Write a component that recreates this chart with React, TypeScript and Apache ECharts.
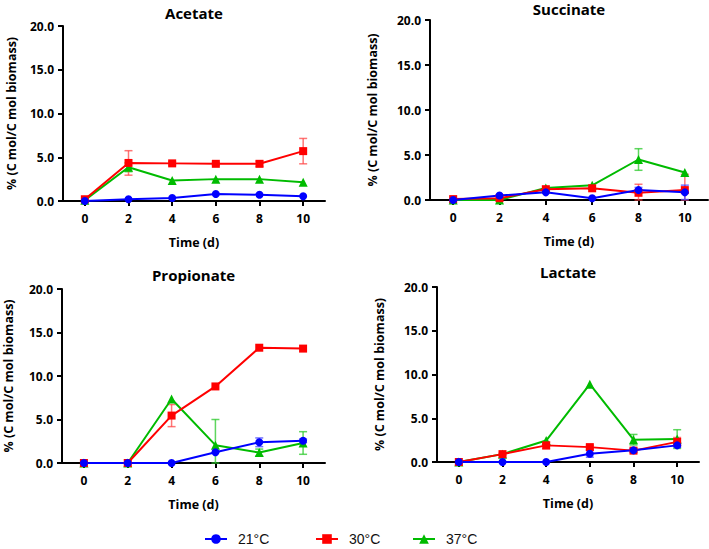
import React, { useEffect, useRef } from "react";
import * as echarts from "echarts";

// ---- data ----
const days = [0, 2, 4, 6, 8, 10];
const xTicks = [0, 2, 4, 6, 8, 10];
const seriesNames = ["21°C", "30°C", "37°C"];
const panelTitles = ["Acetate", "Succinate", "Propionate", "Lactate"];

// Acetate
const acetate21 = [0, 0.2, 0.35, 0.8, 0.72, 0.55];
const acetate21Err = [0, 0, 0, 0, 0, 0];
const acetate30 = [0.2, 4.35, 4.3, 4.25, 4.25, 5.7];
const acetate30Err = [0, 1.4, 0.2, 0.15, 0.3, 1.45];
const acetate37 = [0.1, 3.85, 2.35, 2.5, 2.5, 2.15];
const acetate37Err = [0, 0.5, 0, 0, 0, 0];

// Succinate
const succinate21 = [0, 0.5, 0.85, 0.2, 1.1, 0.85];
const succinate21Err = [0, 0, 0, 0, 0.3, 0.8];
const succinate30 = [0.1, 0.2, 1.2, 1.3, 0.8, 1.1];
const succinate30Err = [0, 0, 0, 0, 0.95, 1.75];
const succinate37 = [0, 0, 1.33, 1.63, 4.5, 3.05];
const succinate37Err = [0, 0, 0, 0, 1.2, 0];

// Propionate
const propionate21 = [0, 0, 0, 1.23, 2.38, 2.55];
const propionate21Err = [0, 0, 0, 0, 0.5, 0.2];
const propionate30 = [0, 0, 5.45, 8.8, 13.25, 13.15];
const propionate30Err = [0, 0, 1.27, 0, 0, 0];
const propionate37 = [0, 0, 7.35, 2.05, 1.2, 2.3];
const propionate37Err = [0, 0, 0, 2.95, 0.4, 1.3];

// Lactate
const lactate21 = [0, 0, 0, 0.95, 1.33, 1.9];
const lactate21Err = [0, 0, 0, 0.4, 0.2, 0.2];
const lactate30 = [0, 0.9, 1.9, 1.7, 1.3, 2.3];
const lactate30Err = [0, 0.1, 0.4, 0.2, 0.2, 0.5];
const lactate37 = [0, 0.9, 2.45, 8.9, 2.55, 2.62];
const lactate37Err = [0, 0, 0, 0, 0.6, 1.07];

const panels = [
  { v: [acetate21, acetate30, acetate37], e: [acetate21Err, acetate30Err, acetate37Err] },
  { v: [succinate21, succinate30, succinate37], e: [succinate21Err, succinate30Err, succinate37Err] },
  { v: [propionate21, propionate30, propionate37], e: [propionate21Err, propionate30Err, propionate37Err] },
  { v: [lactate21, lactate30, lactate37], e: [lactate21Err, lactate30Err, lactate37Err] },
];

// ---- styles ----
const colors = ["#0000FF", "#FF0000", "#00BB00"];
const errColors = ["rgba(70,70,255,0.75)", "rgba(255,60,60,0.7)", "rgba(40,200,40,0.75)"];
const symbols = ["circle", "rect", "triangle"];
const FONT = "Open Sans";

const grids = [
  { left: 63, top: 26, width: 262, height: 175 },
  { left: 430, top: 20, width: 278, height: 180 },
  { left: 62, top: 289, width: 263, height: 174 },
  { left: 437, top: 287, width: 262, height: 175 },
];
const yNameGaps = [45, 51, 47, 51];
const titleTops = [5, 1, 267, 264];
const legendLefts = [204, 315, 412];

export default function App() {
  const ref = useRef<HTMLDivElement>(null);
  useEffect(() => {
    document.body.style.margin = "0";
    const chart = echarts.init(ref.current!, null, { renderer: "svg" });

    const series: any[] = [];
    panels.forEach((p, gi) => {
      // draw order: 37 (green), 30 (red), 21 (blue) on top
      [2, 1, 0].forEach((si) => {
        const errData = days
          .map((d, i) => [d, p.v[si][i], p.e[si][i]])
          .filter((r) => r[2] > 0);
        series.push({
          type: "custom",
          xAxisIndex: gi,
          yAxisIndex: gi,
          silent: true,
          z: 1,
          data: errData,
          renderItem: (params: any, api: any) => {
            const x = api.value(0);
            const y = api.value(1);
            const e = api.value(2);
            const top = api.coord([x, y + e]);
            const bot = api.coord([x, Math.max(0, y - e)]);
            const hw = 4;
            const st = { stroke: errColors[si], lineWidth: 1.5 };
            return {
              type: "group",
              children: [
                { type: "line", shape: { x1: top[0], y1: top[1], x2: bot[0], y2: bot[1] }, style: st },
                { type: "line", shape: { x1: top[0] - hw, y1: top[1], x2: top[0] + hw, y2: top[1] }, style: st },
                { type: "line", shape: { x1: bot[0] - hw, y1: bot[1], x2: bot[0] + hw, y2: bot[1] }, style: st },
              ],
            };
          },
        });
      });
      [2, 1, 0].forEach((si) => {
        series.push({
          type: "line",
          name: seriesNames[si],
          xAxisIndex: gi,
          yAxisIndex: gi,
          z: 2,
          data: days.map((d, i) => [d, p.v[si][i]]),
          symbol: symbols[si],
          symbolSize: si === 2 ? 9 : 8,
          showSymbol: true,
          lineStyle: { color: colors[si], width: 2 },
          itemStyle: { color: colors[si] },
        });
      });
    });

    const axisLabelStyle = { fontFamily: FONT, fontWeight: "bold" as const, fontSize: 12, color: "#000" };

    const option: any = {
      animation: false,
      backgroundColor: "#fff",
      title: panelTitles.map((t, i) => ({
        text: t,
        left: grids[i].left + grids[i].width / 2,
        top: titleTops[i],
        textAlign: "center",
        padding: 0,
        textStyle: { fontFamily: FONT, fontWeight: "bold", fontSize: 15, color: "#000" },
      })),
      grid: grids.map((g) => ({ ...g, containLabel: false, outerBoundsMode: "none" })),
      xAxis: grids.map((g, i) => ({
        type: "value",
        gridIndex: i,
        min: -1,
        max: 11,
        name: "Time (d)",
        nameLocation: "middle",
        nameGap: 35,
        nameTextStyle: { fontFamily: FONT, fontWeight: "bold", fontSize: 12.5, color: "#000" },
        axisLine: { show: true, onZero: false, lineStyle: { color: "#000", width: 2 } },
        axisTick: { show: true, length: 5, customValues: xTicks, lineStyle: { color: "#000", width: 2 } },
        axisLabel: { ...axisLabelStyle, margin: 11, customValues: xTicks },
        splitLine: { show: false },
      })),
      yAxis: grids.map((g, i) => ({
        type: "value",
        gridIndex: i,
        min: 0,
        max: 20,
        interval: 5,
        name: "% (C mol/C mol biomass)",
        nameLocation: "middle",
        nameGap: yNameGaps[i],
        nameTextStyle: { fontFamily: FONT, fontWeight: "bold", fontSize: 12.5, color: "#000" },
        axisLine: { show: true, onZero: false, lineStyle: { color: "#000", width: 2 } },
        axisTick: { show: true, length: 5, lineStyle: { color: "#000", width: 2 } },
        axisLabel: { ...axisLabelStyle, margin: 9, formatter: (v: number) => v.toFixed(1) },
        splitLine: { show: false },
      })),
      legend: seriesNames.map((n, i) => ({
        data: [n],
        left: legendLefts[i],
        top: 532,
        itemWidth: 22,
        itemHeight: 12,
        padding: 0,
        textStyle: { fontFamily: "Liberation Sans", fontSize: 14, color: "#111", padding: [0, 0, 0, 6] },
      })),
      series,
    };
    chart.setOption(option);
    return () => chart.dispose();
  }, []);
  return <div ref={ref} style={{ width: 709, height: 549 }} />;
}
